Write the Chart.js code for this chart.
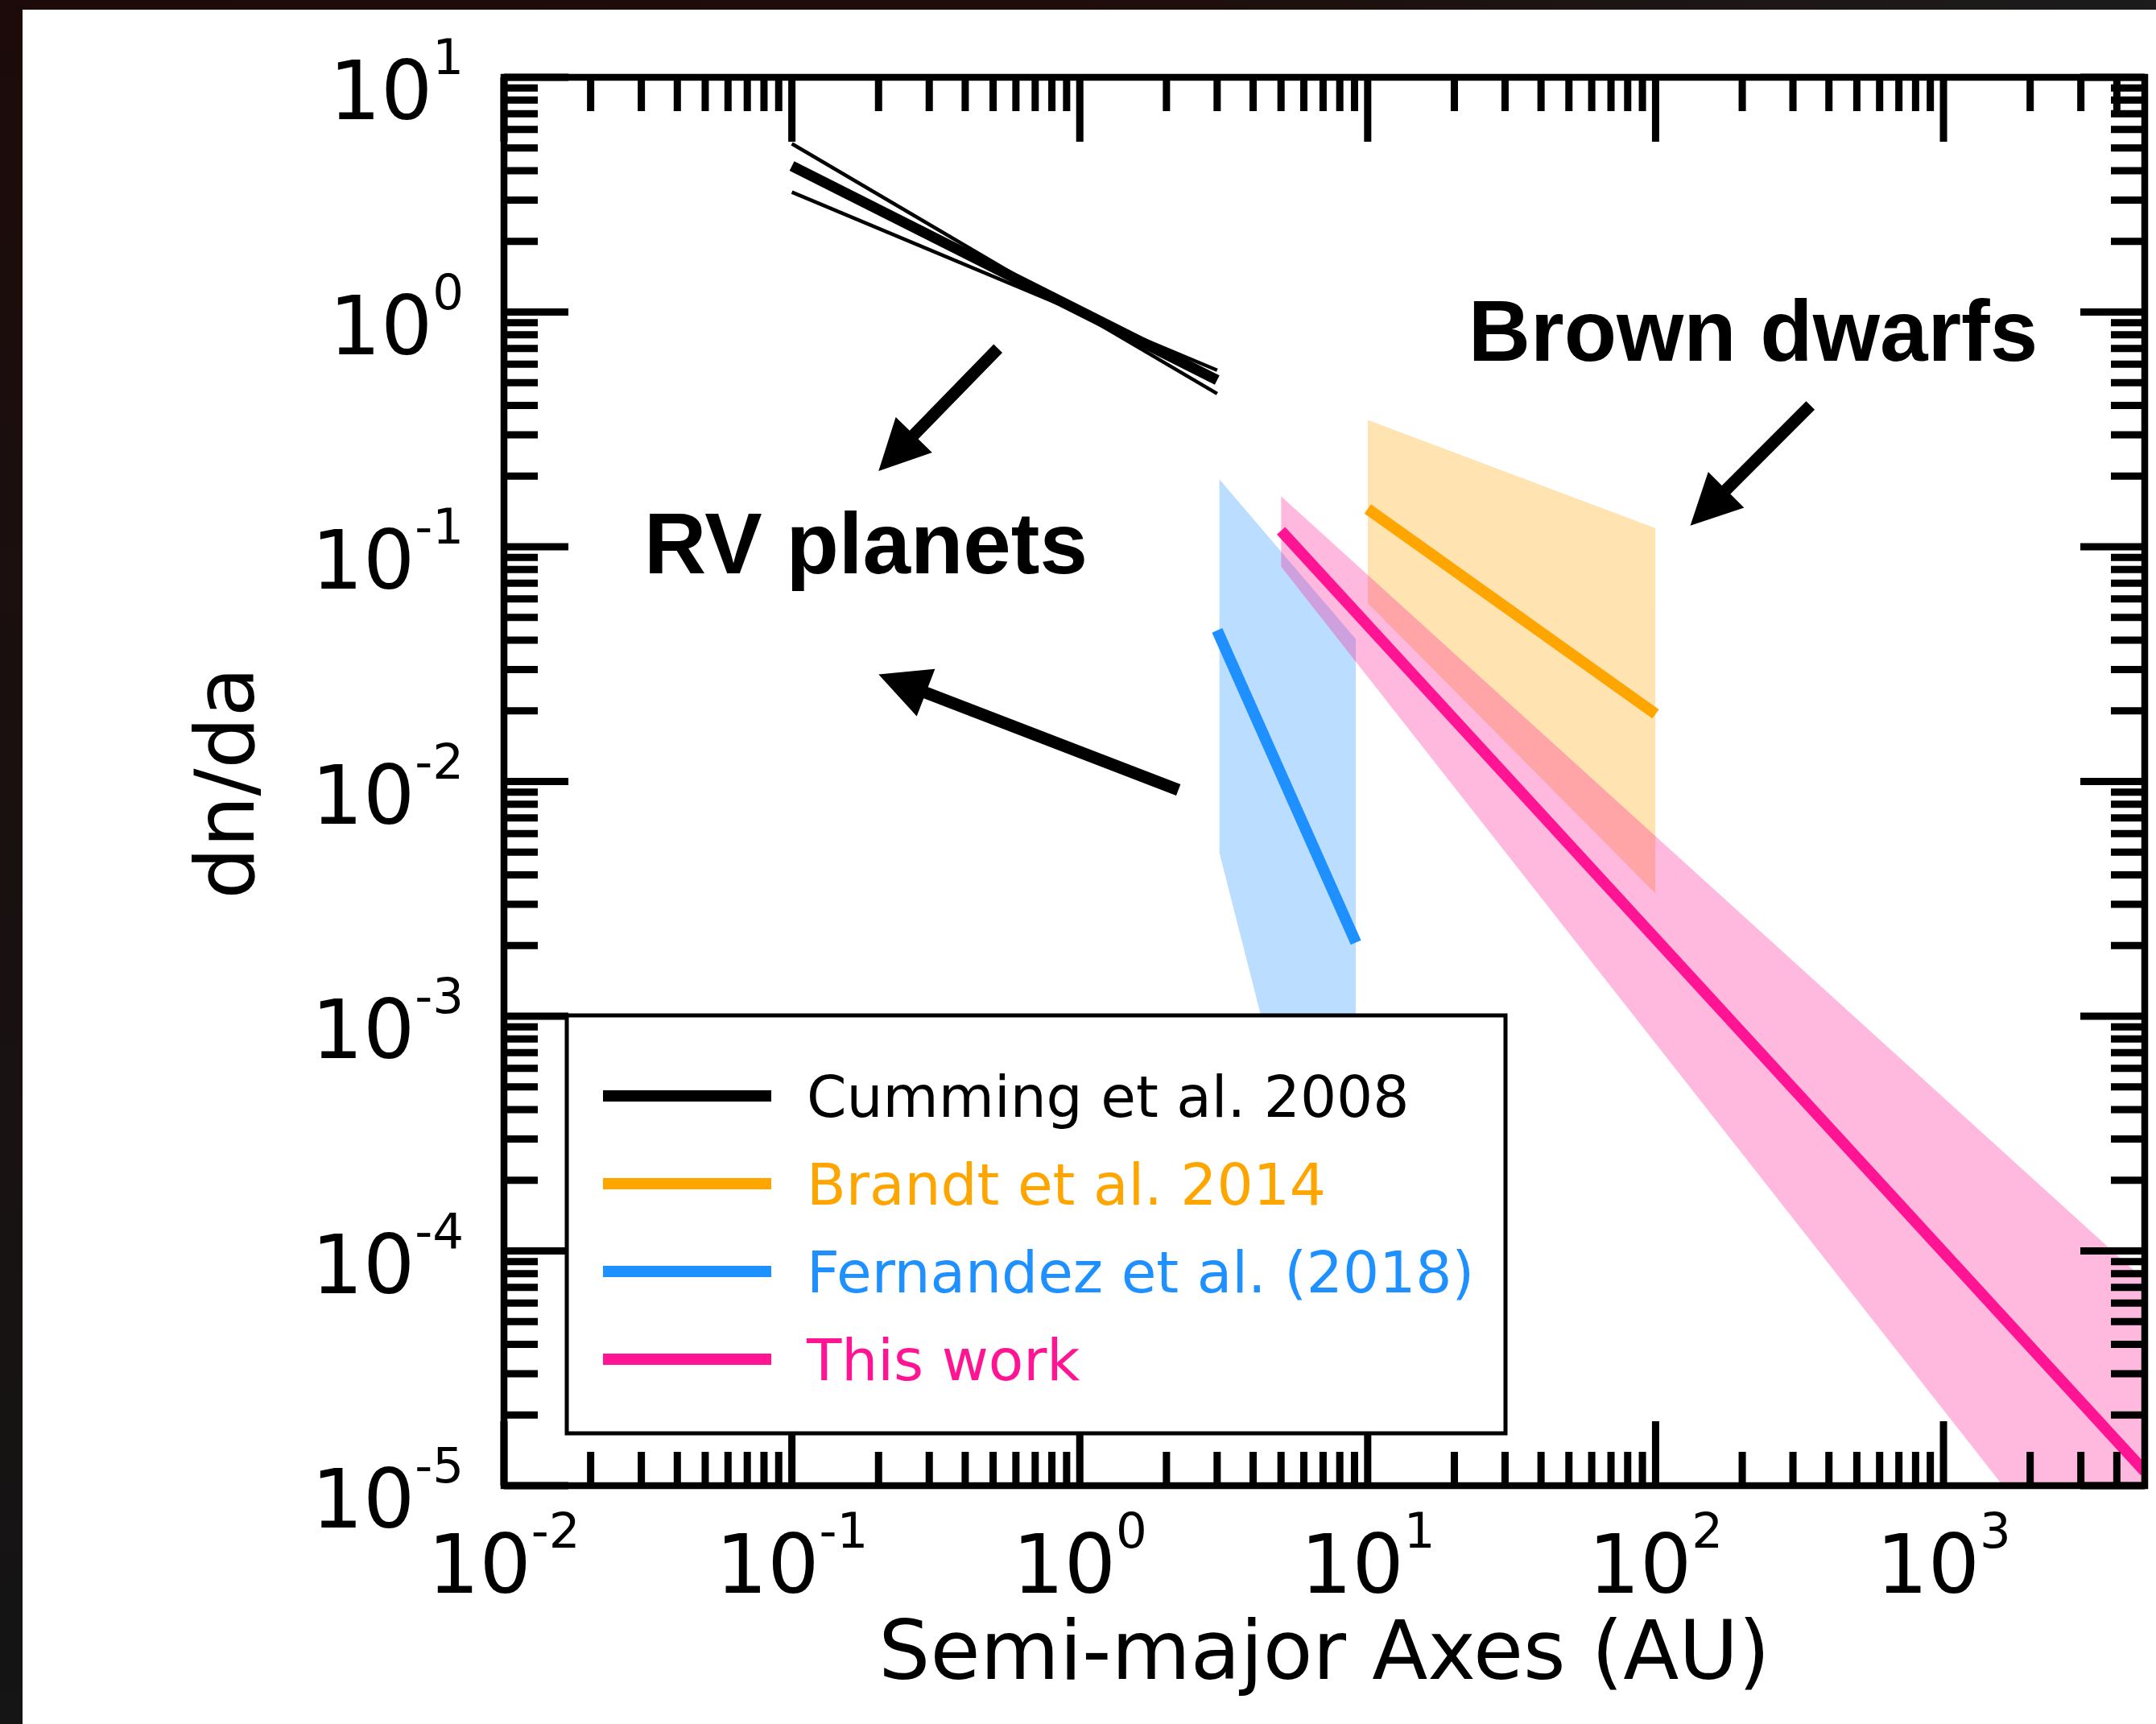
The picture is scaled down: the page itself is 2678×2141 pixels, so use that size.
<!DOCTYPE html>
<html>
<head>
<meta charset="utf-8">
<script src="https://cdn.jsdelivr.net/npm/chart.js@4.4.1/dist/chart.umd.min.js"></script>
<style>
  html, body { margin: 0; padding: 0; background: #fff; }
  canvas { display: block; }
</style>
</head>
<body>
<canvas id="grafico" width="2678" height="2141"></canvas>
<script>
// semi-major axis (AU) at both ends of each segment, dn/da
const cummingA = [0.1, 3];
const cummingMid = [4.19, 0.513];
const cummingSteep = [5.21, 0.449];
const cummingFlat = [3.24, 0.565];

const brandtA = [10, 100];
const brandtLine = [0.145, 0.0194];
const brandtHigh = [0.347, 0.12];
const brandtLow = [0.0575, 0.00333];

const fernandezA = [3.05, 9.1];
const fernandezLineA = [3.0, 9.1];
const fernandezLine = [0.044, 0.00206];
const fernandezHigh = [0.194, 0.0404];
const fernandezLow = [0.005, 0.000026];

const thisWorkA = [5, 5000];
const thisWorkLine = [0.117, 0.0000115];
const thisWorkHigh = [0.164, 0.000075];
const thisWorkLow = [0.0824, 0.0000017];

// tick labels (powers of ten)
const xTickExp = [-2, -1, 0, 1, 2, 3];
const yTickExp = [1, 0, -1, -2, -3, -4, -5];

const legendLabels = ["Cumming et al. 2008", "Brandt et al. 2014", "Fernandez et al. (2018)", "This work"];
const legendColors = ["#000000", "#FFA500", "#1E90FF", "#FF1493"];

// arrows: tail x, tail y, tip x, tip y (data coords)
const arrowTail = [[0.52, 0.70], [2.2, 0.0092], [345, 0.40]];
const arrowTip = [[0.2, 0.21], [0.2, 0.0286], [132, 0.123]];
const noteTexts = ["RV planets", "Brown dwarfs"];
const notePos = [[0.03065, 0.0769], [22.35, 0.619]];

const W = 2678, H = 2141;

function pts(xs, ys) {
    return xs.map(function (x, i) { return { x: x, y: ys[i] }; });
}

function line(label, xs, ys, color, width, order) {
    return {
        label: label, data: pts(xs, ys), borderColor: color, borderWidth: width,
        pointRadius: 0, fill: false, order: order, clip: 0,
    };
}

function band(label, xs, hi, lo, color, order) {
    return [
        { label: label + " hi", data: pts(xs, hi), borderWidth: 0, borderColor: "rgba(0,0,0,0)",
          pointRadius: 0, backgroundColor: color, fill: "+1", order: order, clip: 0 },
        { label: label + " lo", data: pts(xs, lo), borderWidth: 0, borderColor: "rgba(0,0,0,0)",
          pointRadius: 0, fill: false, order: order, clip: 0 },
    ];
}

const datasets = [
    line(legendLabels[3], thisWorkA, thisWorkLine, legendColors[3], 14, 0),
    line(legendLabels[2], fernandezLineA, fernandezLine, legendColors[2], 14, 1),
    line(legendLabels[1], brandtA, brandtLine, legendColors[1], 14, 2),
    line(legendLabels[0], cummingA, cummingMid, legendColors[0], 13, 3),
    line("Cumming steep", cummingA, cummingSteep, legendColors[0], 4.5, 4),
    line("Cumming flat", cummingA, cummingFlat, legendColors[0], 4.5, 5),
].concat(
    band("This work", thisWorkA, thisWorkHigh, thisWorkLow, "rgba(255,20,147,0.3)", 10),
    band("Brandt", brandtA, brandtHigh, brandtLow, "rgba(255,165,0,0.3)", 11),
    band("Fernandez", fernandezA, fernandezHigh, fernandezLow, "rgba(30,144,255,0.3)", 12)
);

const FONT = "'DejaVu Sans', sans-serif";

function powLabel(ctx, e, x, baseY, align) {
    ctx.font = "101px " + FONT;
    const w1 = ctx.measureText("10").width;
    ctx.font = "61px " + FONT;
    const es = String(e);
    const w2 = ctx.measureText(es).width;
    const total = w1 + w2;
    const left = align === "right" ? x - total : x - total / 2;
    ctx.textAlign = "left";
    ctx.textBaseline = "alphabetic";
    ctx.font = "101px " + FONT;
    ctx.fillText("10", left, baseY);
    ctx.font = "61px " + FONT;
    ctx.fillText(es, left + w1, baseY - 56);
}

function drawArrow(ctx, x0, y0, x1, y1) {
    const shaft = 15, headLen = 63, headW = 63;
    const dx = x1 - x0, dy = y1 - y0, len = Math.hypot(dx, dy);
    const ux = dx / len, uy = dy / len, nx = -uy, ny = ux;
    const bx = x1 - ux * headLen, by = y1 - uy * headLen;
    ctx.beginPath();
    ctx.moveTo(x0 + nx * shaft / 2, y0 + ny * shaft / 2);
    ctx.lineTo(bx + nx * shaft / 2, by + ny * shaft / 2);
    ctx.lineTo(bx + nx * headW / 2, by + ny * headW / 2);
    ctx.lineTo(x1, y1);
    ctx.lineTo(bx - nx * headW / 2, by - ny * headW / 2);
    ctx.lineTo(bx - nx * shaft / 2, by - ny * shaft / 2);
    ctx.lineTo(x0 - nx * shaft / 2, y0 - ny * shaft / 2);
    ctx.closePath();
    ctx.fill();
}

function minorValues(min, max) {
    const out = [];
    for (let k = Math.floor(Math.log10(min)); k <= Math.ceil(Math.log10(max)); k++) {
        for (let m = 2; m <= 9; m++) {
            const v = m * Math.pow(10, k);
            if (v > min && v < max * 0.999) out.push(v);
        }
    }
    return out;
}

const decor = {
    id: "decor",
    beforeDraw: function (chart) {
        const ctx = chart.ctx;
        ctx.save();
        ctx.fillStyle = "#ffffff";
        ctx.fillRect(0, 0, chart.width, chart.height);
        ctx.restore();
    },
    afterDatasetsDraw: function (chart) {
        const ctx = chart.ctx, xs = chart.scales.x, ys = chart.scales.y;
        ctx.save();
        ctx.fillStyle = "#000";
        arrowTail.forEach(function (t, i) {
            drawArrow(ctx, xs.getPixelForValue(t[0]), ys.getPixelForValue(t[1]),
                xs.getPixelForValue(arrowTip[i][0]), ys.getPixelForValue(arrowTip[i][1]));
        });
        ctx.font = "bold 107px 'Liberation Sans', Arial, sans-serif";
        ctx.textAlign = "left";
        ctx.textBaseline = "alphabetic";
        noteTexts.forEach(function (t, i) {
            ctx.fillText(t, xs.getPixelForValue(notePos[i][0]), ys.getPixelForValue(notePos[i][1]));
        });
        ctx.restore();
    },
    afterDraw: function (chart) {
        const ctx = chart.ctx, xs = chart.scales.x, ys = chart.scales.y;
        const a = chart.chartArea;
        ctx.save();
        ctx.strokeStyle = "#000";
        ctx.fillStyle = "#000";
        ctx.lineCap = "butt";

        // inward ticks on all four sides
        ctx.lineWidth = 9;
        function xTick(v, len) {
            const p = xs.getPixelForValue(v);
            ctx.beginPath();
            ctx.moveTo(p, a.bottom); ctx.lineTo(p, a.bottom - len);
            ctx.moveTo(p, a.top); ctx.lineTo(p, a.top + len);
            ctx.stroke();
        }
        function yTick(v, len) {
            const p = ys.getPixelForValue(v);
            ctx.beginPath();
            ctx.moveTo(a.left, p); ctx.lineTo(a.left + len, p);
            ctx.moveTo(a.right, p); ctx.lineTo(a.right - len, p);
            ctx.stroke();
        }
        minorValues(xs.min, xs.max).forEach(function (v) { xTick(v, 42); });
        xTickExp.forEach(function (e) { xTick(Math.pow(10, e), 80); });
        minorValues(ys.min, ys.max).forEach(function (v) { yTick(v, 42); });
        yTickExp.forEach(function (e) { yTick(Math.pow(10, e), 80); });

        // spines
        ctx.lineWidth = 8.5;
        ctx.lineJoin = "miter";
        ctx.strokeRect(a.left, a.top, a.right - a.left, a.bottom - a.top);

        // tick labels
        xTickExp.forEach(function (e) {
            powLabel(ctx, e, xs.getPixelForValue(Math.pow(10, e)), a.bottom + 133, "center");
        });
        yTickExp.forEach(function (e) {
            powLabel(ctx, e, a.left - 50, ys.getPixelForValue(Math.pow(10, e)) + 52, "right");
        });

        // axis titles
        ctx.font = "101px " + FONT;
        ctx.textAlign = "center";
        ctx.textBaseline = "alphabetic";
        ctx.fillText("Semi-major Axes (AU)", (a.left + a.right) / 2, a.bottom + 240);
        ctx.save();
        ctx.translate(315, (a.top + a.bottom) / 2 + 2);
        ctx.rotate(-Math.PI / 2);
        ctx.fillText("dn/da", 0, 0);
        ctx.restore();

        // legend box
        const lx0 = a.left + 78, ly0 = a.top + 1165, lx1 = a.left + 1244, ly1 = a.top + 1684;
        ctx.fillStyle = "#fff";
        ctx.fillRect(lx0, ly0, lx1 - lx0, ly1 - ly0);
        ctx.lineWidth = 5;
        ctx.strokeStyle = "#000";
        ctx.strokeRect(lx0, ly0, lx1 - lx0, ly1 - ly0);
        ctx.font = "71px " + FONT;
        ctx.textAlign = "left";
        legendLabels.forEach(function (lab, i) {
            const cy = ly0 + 100 + i * 109;
            ctx.strokeStyle = legendColors[i];
            ctx.lineWidth = 14;
            ctx.beginPath();
            ctx.moveTo(lx0 + 45, cy);
            ctx.lineTo(lx0 + 254, cy);
            ctx.stroke();
            ctx.fillStyle = legendColors[i];
            ctx.fillText(lab, lx0 + 298, cy + 26);
        });

        // dark frame of the screenshot
        const gTop = ctx.createLinearGradient(0, 0, W, 0);
        gTop.addColorStop(0, "#1d0b0b");
        gTop.addColorStop(0.5, "#1e0d0c");
        gTop.addColorStop(1, "#1c1c1c");
        ctx.fillStyle = gTop;
        ctx.fillRect(0, 0, W, 12);
        const gLeft = ctx.createLinearGradient(0, 0, 0, H);
        gLeft.addColorStop(0, "#1d0b0b");
        gLeft.addColorStop(1, "#151515");
        ctx.fillStyle = gLeft;
        ctx.fillRect(0, 0, 28, H);
        ctx.restore();
    },
};

new Chart(document.getElementById("grafico").getContext("2d"), {
    type: "line",
    data: { datasets: datasets },
    options: {
        responsive: false,
        devicePixelRatio: 1,
        animation: false,
        events: [],
        layout: { padding: { left: 626, top: 96, right: W - 2664, bottom: H - 1845 } },
        scales: {
            x: { type: "logarithmic", min: 0.01, max: 5000, display: false, bounds: "data" },
            y: { type: "logarithmic", min: 0.00001, max: 10, display: false, bounds: "data" },
        },
        plugins: {
            legend: { display: false },
            tooltip: { enabled: false },
        },
    },
    plugins: [decor],
});
</script>
</body>
</html>
